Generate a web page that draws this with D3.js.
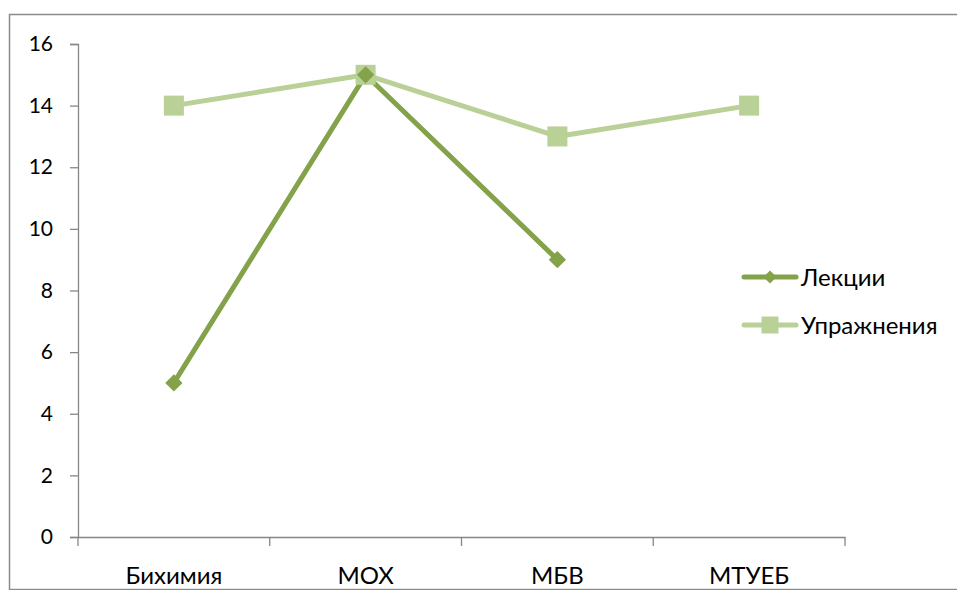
<!DOCTYPE html>
<html><head><meta charset="utf-8">
<script src="https://cdn.jsdelivr.net/npm/d3@7"></script>
<style>body{margin:0;background:#fff}svg{display:block}</style>
</head><body>
<script>
const categories = ["Бихимия", "МОХ", "МБВ", "МТУЕБ"];
const lectures = [5, 15, 9, null];
const exercises = [14, 15, 13, 14];
const seriesNames = ["Лекции", "Упражнения"];
const yTicks = [0, 2, 4, 6, 8, 10, 12, 14, 16];

const W = 957, H = 590;
const svg = d3.select("body").append("svg").attr("width", W).attr("height", H);
const font = "Lato, 'Open Sans', sans-serif";

// chart area border
svg.append("rect").attr("x", 9.5).attr("y", 14.5).attr("width", 960).attr("height", 575)
  .attr("fill", "#fff").attr("stroke", "#8c8c8c").attr("stroke-width", 1.5);

const x = d3.scaleBand().domain(categories).range([78, 845]);
const y = d3.scaleLinear().domain([0, 16]).range([537, 44]);

// y axis
const yAxis = svg.append("g").attr("transform", "translate(78,0)")
  .call(d3.axisLeft(y).tickValues(yTicks).tickSize(8).tickPadding(17));
yAxis.select(".domain").attr("stroke", "#868686").attr("stroke-width", 1.3);
yAxis.selectAll(".tick line").attr("stroke", "#868686").attr("stroke-width", 1.3);
yAxis.selectAll("text").attr("font-family", font).attr("font-size", 21).attr("fill", "#000");

// x axis
const xAxis = svg.append("g").attr("transform", "translate(0,537)")
  .call(d3.axisBottom(x).tickSize(0).tickPadding(0));
xAxis.select(".domain").attr("stroke", "#868686").attr("stroke-width", 1.3);
xAxis.selectAll("text").attr("font-family", font).attr("font-size", 24).attr("fill", "#000")
  .attr("dy", null).attr("y", 47);
// boundary ticks
const bounds = categories.map(c => x(c)).concat([x.range()[1]]);
svg.append("g").selectAll("line").data(bounds).join("line")
  .attr("x1", d => d).attr("x2", d => d).attr("y1", 537).attr("y2", 546)
  .attr("stroke", "#868686").attr("stroke-width", 1.3);

const cx = c => x(c) + x.bandwidth() / 2;
const cols = ["#83a24a", "#b9d097"];
const line = d3.line().defined(d => d.v != null).x(d => cx(d.c)).y(d => y(d.v));

const exData = categories.map((c, i) => ({c, v: exercises[i]}));
const leData = categories.map((c, i) => ({c, v: lectures[i]}));

// exercises series
svg.append("path").datum(exData).attr("d", line).attr("fill", "none")
  .attr("stroke", cols[1]).attr("stroke-width", 5).attr("stroke-linejoin", "round").attr("stroke-linecap", "round");
// lectures series
svg.append("path").datum(leData).attr("d", line).attr("fill", "none")
  .attr("stroke", cols[0]).attr("stroke-width", 5).attr("stroke-linejoin", "round").attr("stroke-linecap", "round");

svg.append("g").selectAll("rect").data(exData.filter(d => d.v != null)).join("rect")
  .attr("x", d => cx(d.c) - 10).attr("y", d => y(d.v) - 10).attr("width", 20).attr("height", 20)
  .attr("fill", cols[1]);
svg.append("g").selectAll("path").data(leData.filter(d => d.v != null)).join("path")
  .attr("d", d3.symbol().type(d3.symbolDiamond2).size(190)())
  .attr("transform", d => `translate(${cx(d.c)},${y(d.v)})`).attr("fill", cols[0]);

// legend
const leg = svg.append("g");
const ly = [277, 325];
seriesNames.forEach((n, i) => {
  leg.append("line").attr("x1", 744).attr("x2", 796).attr("y1", ly[i]).attr("y2", ly[i])
    .attr("stroke", cols[i]).attr("stroke-width", 5).attr("stroke-linecap", "round");
  if (i === 0) {
    leg.append("path").attr("d", d3.symbol().type(d3.symbolDiamond2).size(110)())
      .attr("transform", `translate(770,${ly[i]})`).attr("fill", cols[0]);
  } else {
    leg.append("rect").attr("x", 761.5).attr("y", ly[i] - 8.5).attr("width", 17).attr("height", 17).attr("fill", cols[1]);
  }
  leg.append("text").attr("x", 801).attr("y", ly[i] + 9)
    .attr("font-family", font).attr("font-size", 24).attr("fill", "#000").text(n);
});
</script>
</body></html>
